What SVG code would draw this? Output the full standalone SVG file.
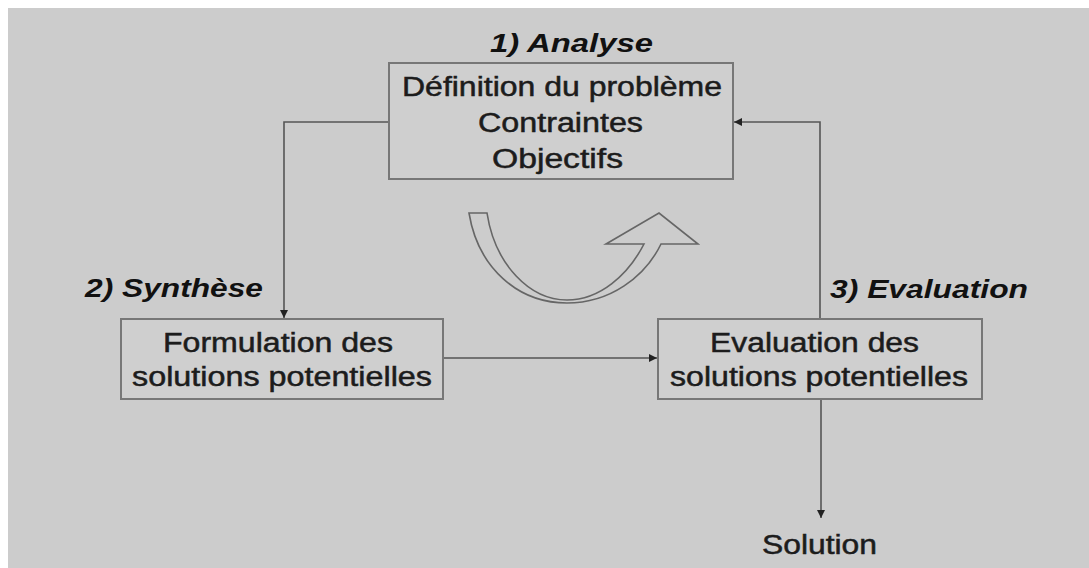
<svg xmlns="http://www.w3.org/2000/svg" width="1089" height="568" viewBox="0 0 1089 568">
<style>
.box{fill:#cfcfcf;stroke:#777;stroke-width:2}
.t{font-family:"Liberation Sans",Arial,sans-serif;font-size:27px;fill:#1c1c1c;stroke:#1c1c1c;stroke-width:0.5}
.lbl{font-family:"Liberation Sans",Arial,sans-serif;font-size:25px;font-weight:bold;font-style:italic;fill:#111}
.c{fill:none;stroke:#555;stroke-width:1.6}
</style>
<defs>
<marker id="ah" viewBox="0 0 10 10" refX="10" refY="5" markerWidth="8" markerHeight="8" markerUnits="userSpaceOnUse" orient="auto">
<path d="M0,0 L10,5 L0,10 Z" fill="#222"/>
</marker>
</defs>
<rect x="0" y="0" width="1089" height="568" fill="#fff"/>
<rect x="8" y="8" width="1081" height="560" fill="#cccccc"/>

<g id="connectors">
<path class="c" d="M389,122 H284 V318" marker-end="url(#ah)"/>
<path class="c" d="M820,319 V122 H734" marker-end="url(#ah)"/>
<path class="c" d="M443,358 H657" marker-end="url(#ah)"/>
<path class="c" d="M821,399 V518" marker-end="url(#ah)"/>
</g>

<g id="cycle-arrow">
<path d="M469,213 L487,213 C495,265 530,300 567,300 C600,300 628,275 644,244 L606,244 L659,213 L698,244 L661,244 C645,277 610,303 567,303 C518,303 478,268 469,213 Z" fill="none" stroke="#666" stroke-width="1.6"/>
</g>

<g id="analyse">
<text class="lbl" x="490" y="52" textLength="163" lengthAdjust="spacingAndGlyphs">1) Analyse</text>
<rect class="box" x="389" y="63" width="344" height="116"/>
<text class="t" x="402" y="96" textLength="320" lengthAdjust="spacingAndGlyphs">Définition du problème</text>
<text class="t" x="478" y="132" textLength="165" lengthAdjust="spacingAndGlyphs">Contraintes</text>
<text class="t" x="492" y="168" textLength="131" lengthAdjust="spacingAndGlyphs">Objectifs</text>
</g>

<g id="synthese">
<text class="lbl" x="85" y="297" textLength="178" lengthAdjust="spacingAndGlyphs">2) Synthèse</text>
<rect class="box" x="121" y="319" width="322" height="80"/>
<text class="t" x="163" y="352" textLength="230" lengthAdjust="spacingAndGlyphs">Formulation des</text>
<text class="t" x="132" y="386" textLength="300" lengthAdjust="spacingAndGlyphs">solutions potentielles</text>
</g>

<g id="evaluation">
<text class="lbl" x="830" y="298" textLength="198" lengthAdjust="spacingAndGlyphs">3) Evaluation</text>
<rect class="box" x="658" y="319" width="324" height="80"/>
<text class="t" x="710" y="352" textLength="209" lengthAdjust="spacingAndGlyphs">Evaluation des</text>
<text class="t" x="670" y="386" textLength="298" lengthAdjust="spacingAndGlyphs">solutions potentielles</text>
</g>

<g id="solution">
<text class="t" x="762" y="554" textLength="115" lengthAdjust="spacingAndGlyphs">Solution</text>
</g>
</svg>
